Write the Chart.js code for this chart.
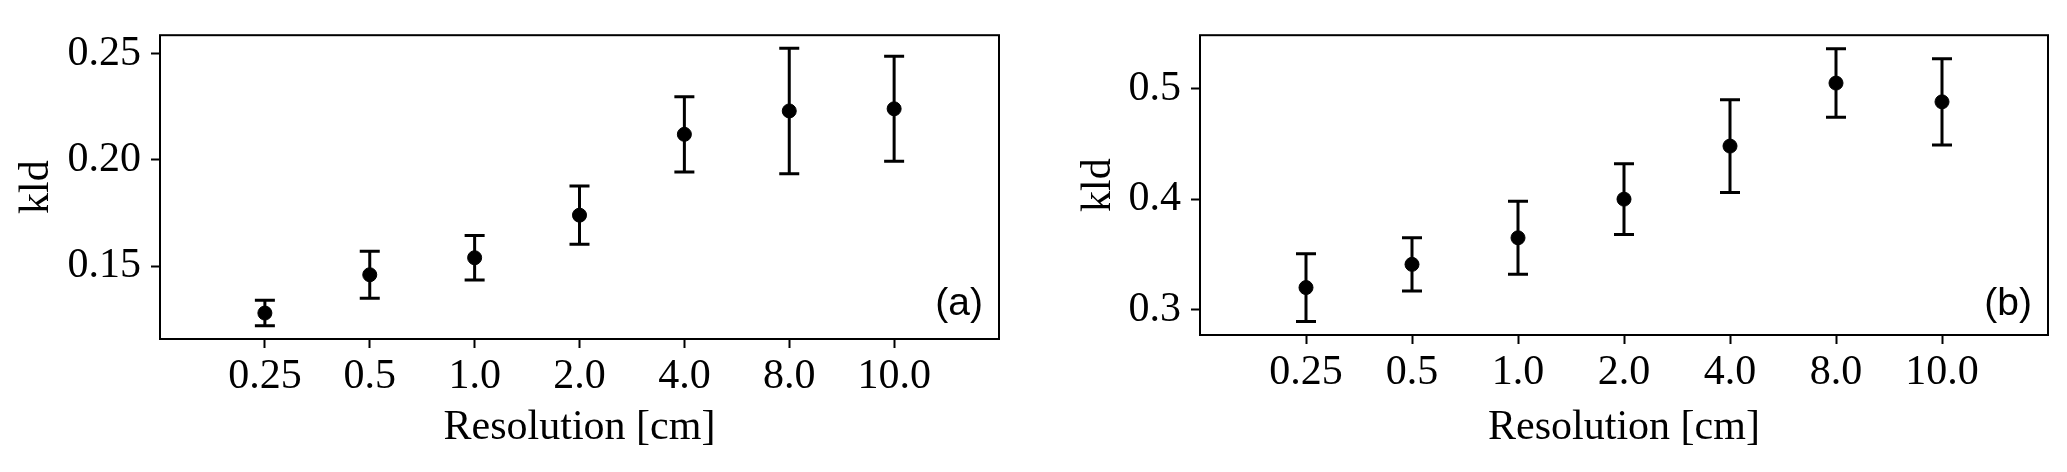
<!DOCTYPE html>
<html>
<head>
<meta charset="utf-8">
<script src="https://cdn.jsdelivr.net/npm/chart.js@4.4.1/dist/chart.umd.min.js"></script>
<style>
    body { margin: 0; background: #fff; width: 2067px; height: 472px; position: relative; overflow: hidden; }
    canvas { position: absolute; top: 0; }
    #chartA { left: 0; }
    #chartB { left: 1040px; }
</style>
</head>
<body>
<canvas id="chartA" width="1020" height="472"></canvas>
<canvas id="chartB" width="1027" height="472"></canvas>
<script>
// Data
const resolutions = ['0.25', '0.5', '1.0', '2.0', '4.0', '8.0', '10.0'];

const kldA = [0.128, 0.146, 0.154, 0.174, 0.212, 0.223, 0.224];
const errA = [0.006, 0.011, 0.0105, 0.0137, 0.0177, 0.0295, 0.0247];
const yTicksA = [0.15, 0.20, 0.25];

const kldB = [0.320, 0.341, 0.365, 0.400, 0.448, 0.505, 0.488];
const errB = [0.0306, 0.024, 0.033, 0.032, 0.042, 0.031, 0.039];
const yTicksB = [0.3, 0.4, 0.5];

const serif = '"Liberation Serif", "DejaVu Serif", serif';

// error bars, frame and panel letter
const errorBarPlugin = {
    id: 'errorBars',
    beforeDatasetsDraw(chart) {
        const ctx = chart.ctx;
        const x = chart.scales.x;
        const y = chart.scales.y;
        const opts = chart.options.plugins.errorBars;
        ctx.save();
        ctx.strokeStyle = '#000';
        ctx.lineWidth = 3;
        opts.means.forEach((m, i) => {
            const px = x.getPixelForValue(i);
            const top = y.getPixelForValue(m + opts.errors[i]);
            const bot = y.getPixelForValue(m - opts.errors[i]);
            ctx.beginPath();
            ctx.moveTo(px, top);
            ctx.lineTo(px, bot);
            ctx.moveTo(px - 10, top);
            ctx.lineTo(px + 10, top);
            ctx.moveTo(px - 10, bot);
            ctx.lineTo(px + 10, bot);
            ctx.stroke();
        });
        ctx.restore();
    },
    afterDraw(chart) {
        const ctx = chart.ctx;
        const a = chart.chartArea;
        const opts = chart.options.plugins.errorBars;
        ctx.save();
        ctx.strokeStyle = '#000';
        ctx.lineWidth = 2;
        ctx.strokeRect(a.left, a.top, a.right - a.left, a.bottom - a.top);
        ctx.fillStyle = '#000';
        ctx.font = '39px "Liberation Sans", Arial, sans-serif';
        ctx.textAlign = 'right';
        ctx.textBaseline = 'alphabetic';
        ctx.fillText(opts.panel, a.right - 16, 315);
        ctx.restore();
    }
};

function makeChart(id, means, errors, yTicks, yMin, yMax, digits, panel, axisHeight, rightPad, titlePad) {
    const ctx = document.getElementById(id).getContext('2d');
    return new Chart(ctx, {
        type: 'scatter',
        data: {
            datasets: [{
                data: means.map((m, i) => ({ x: i, y: m })),
                backgroundColor: '#000',
                borderColor: '#000',
                pointRadius: 7,
                pointHoverRadius: 7,
                showLine: false
            }]
        },
        options: {
            responsive: false,
            animation: false,
            layout: { padding: { top: 19, right: rightPad, left: 0, bottom: 0 } },
            plugins: {
                legend: { display: false },
                tooltip: { enabled: false },
                errorBars: { means, errors, panel }
            },
            scales: {
                x: {
                    type: 'linear',
                    min: -1,
                    max: 7,
                    afterBuildTicks: scale => {
                        scale.ticks = resolutions.map((r, i) => ({ value: i }));
                    },
                    afterFit: scale => { scale.height = axisHeight; },
                    border: { display: false },
                    grid: { drawOnChartArea: false, drawTicks: true, tickLength: 9, tickWidth: 2, tickColor: '#000' },
                    ticks: {
                        autoSkip: false,
                        maxRotation: 0,
                        padding: 4,
                        color: '#000',
                        font: { family: serif, size: 42 },
                        callback: v => resolutions[v]
                    },
                    title: {
                        display: true,
                        text: 'Resolution [cm]',
                        color: '#000',
                        font: { family: serif, size: 42 },
                        padding: { top: 0, bottom: 19 }
                    }
                },
                y: {
                    min: yMin,
                    max: yMax,
                    afterBuildTicks: scale => {
                        scale.ticks = yTicks.map(v => ({ value: v }));
                    },
                    afterFit: scale => { scale.width = 160; },
                    border: { display: false },
                    grid: { drawOnChartArea: false, drawTicks: true, tickLength: 9, tickWidth: 2, tickColor: '#000' },
                    ticks: {
                        padding: 10,
                        color: '#000',
                        font: { family: serif, size: 42 },
                        callback: v => v.toFixed(digits)
                    },
                    title: {
                        display: true,
                        text: 'kld',
                        color: '#000',
                        font: { family: serif, size: 42 },
                        padding: { top: titlePad, bottom: 0 }
                    }
                }
            }
        },
        plugins: [errorBarPlugin]
    });
}

makeChart('chartA', kldA, errA, yTicksA, 0.1158, 0.2586, 2, '(a)', 133, 21, 12);
makeChart('chartB', kldB, errB, yTicksB, 0.2771, 0.5483, 1, '(b)', 137, 19, 34);
</script>
</body>
</html>
